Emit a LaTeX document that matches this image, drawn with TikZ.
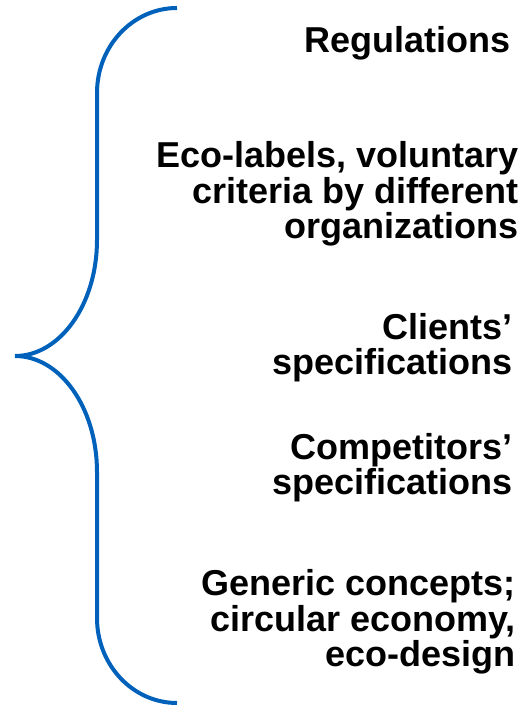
\documentclass[tikz,border=0pt]{standalone}
\usepackage{fontspec}
\setmainfont{Liberation Sans}
\usetikzlibrary{positioning}
\definecolor{braceblue}{RGB}{0,97,187}

\begin{document}
\begin{tikzpicture}[x=1pt, y=1pt,
  itemtext/.style={font=\fontsize{36}{35.8}\selectfont\bfseries, align=right, inner sep=0pt, anchor=base east}]
\useasboundingbox (0,0) rectangle (524,706);

% Brace
\draw[braceblue, line width=4pt]
  (177,698) arc[start angle=90, end angle=180, x radius=80, y radius=85]
  -- (97,466) arc[start angle=0, end angle=-90, x radius=82, y radius=116]
  arc[start angle=90, end angle=0, x radius=82, y radius=116]
  -- (97,88) arc[start angle=180, end angle=270, x radius=80, y radius=85];

% Labels (base anchor sits on the last line)
\node[itemtext] (regs) at (511,653) {Regulations};
\node[itemtext] (eco) at (519,467) {Eco-labels, voluntary\\criteria by different\\organizations};
\node[itemtext] (clients) at (513,331) {Clients’\\specifications};
\node[itemtext] (competitors) at (513,211) {Competitors’\\specifications};
\node[itemtext] (generic) at (516,39) {Generic concepts;\\circular economy,\\eco-design};
\end{tikzpicture}
\end{document}
